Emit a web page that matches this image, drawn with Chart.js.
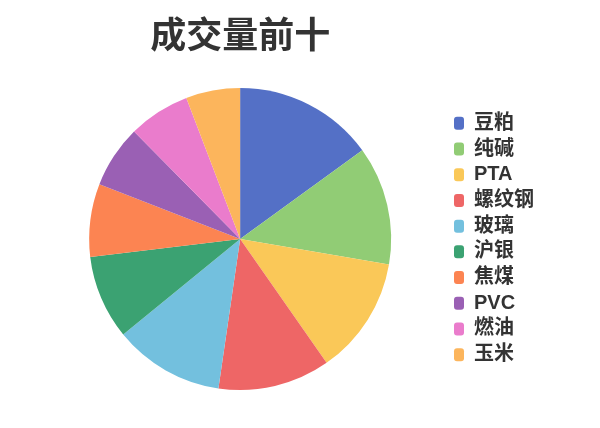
<!DOCTYPE html>
<html>
<head>
<meta charset="utf-8">
<script src="https://cdn.jsdelivr.net/npm/chart.js@4"></script>
<style>
html,body{margin:0;padding:0;background:#fff;}
#wrap{width:600px;height:428px;position:relative;}
</style>
</head>
<body>
<div id="wrap"><canvas id="c" width="600" height="428"></canvas></div>
<script>
const titleText = '成交量前十';
const categories = ['豆粕','纯碱','PTA','螺纹钢','玻璃','沪银','焦煤','PVC','燃油','玉米'];
const volumes = [150, 127, 126, 120, 118, 90, 78, 67, 66, 58];
const colors = ['#5470c6','#91cc75','#fac858','#ee6666','#73c0de','#3ba272','#fc8452','#9a60b4','#ea7ccc','#fcb55c'];

const FONT = '"Liberation Sans","Noto Sans CJK SC",sans-serif';

new Chart(document.getElementById('c'), {
  type: 'pie',
  data: {
    labels: categories,
    datasets: [{
      data: volumes,
      backgroundColor: colors,
      borderWidth: 0
    }]
  },
  options: {
    responsive: false,
    animation: false,
    layout: { padding: { left: 32, right: 56, top: 0, bottom: 38 } },
    plugins: {
      tooltip: { enabled: false },
      title: {
        display: true,
        text: titleText,
        fullSize: false,
        color: '#333333',
        font: { family: FONT, size: 36, weight: 'bold' },
        padding: { top: 16.4, bottom: 28.4 }
      },
      legend: {
        position: 'right',
        fullSize: false,
        align: 'center',
        labels: {
          color: '#333333',
          font: { family: FONT, size: 20, weight: 'bold' },
          boxWidth: 10,
          boxHeight: 13,
          useBorderRadius: true,
          borderRadius: 3,
          padding: 5.7
        }
      }
    }
  }
});
</script>
</body>
</html>
